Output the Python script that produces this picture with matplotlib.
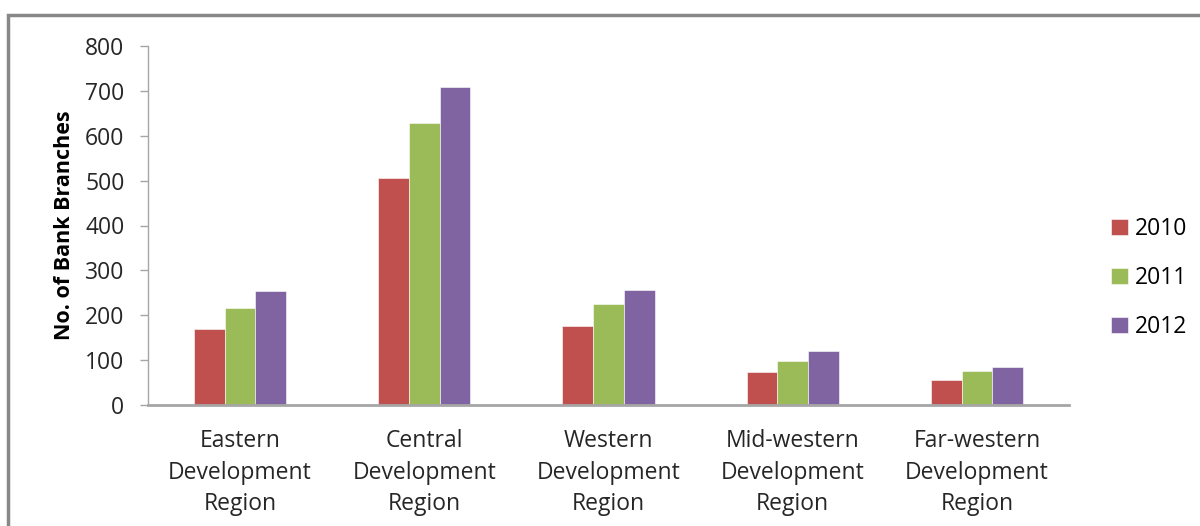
import matplotlib
matplotlib.use("Agg")
import matplotlib.pyplot as plt
import numpy as np
from matplotlib.patches import Patch, Rectangle

plt.rcParams["font.family"] = ["Open Sans", "DejaVu Sans"]

regions = [
    "Eastern\nDevelopment\nRegion",
    "Central\nDevelopment\nRegion",
    "Western\nDevelopment\nRegion",
    "Mid-western\nDevelopment\nRegion",
    "Far-western\nDevelopment\nRegion",
]
years = ["2010", "2011", "2012"]
branches_2010 = [170, 505, 176, 73, 56]
branches_2011 = [216, 628, 225, 99, 76]
branches_2012 = [253, 708, 256, 120, 85]
colors = ["#C0504D", "#9BBB59", "#8064A2"]

TEXT = "#262626"
AXIS = "#A6A6A6"

fig = plt.figure(figsize=(12, 5.26), dpi=100)
ax = fig.add_axes([148 / 1200, 1 - 405 / 526, 921 / 1200, 359 / 526])

x = np.arange(len(regions))
width = 1 / 6
series = [branches_2010, branches_2011, branches_2012]
for i, (vals, col) in enumerate(zip(series, colors)):
    ax.bar(x + (i - 1) * width, vals, width, color=col,
           edgecolor="white", linewidth=0.4, zorder=2)

ax.set_xlim(-0.5, len(regions) - 0.5)
ax.set_ylim(0, 800)
ax.set_yticks(range(0, 801, 100))
ax.set_xticks(x)
ax.set_xticklabels(regions, fontsize=16.5, color=TEXT, linespacing=1.44)
ax.tick_params(axis="x", length=0, pad=17)
ax.tick_params(axis="y", length=6, width=1, color=AXIS, labelsize=16.5,
               labelcolor=TEXT, pad=11)

for side in ("top", "right"):
    ax.spines[side].set_visible(False)
for side in ("left", "bottom"):
    ax.spines[side].set_color(AXIS)
ax.spines["left"].set_linewidth(1)
ax.spines["bottom"].set_linewidth(2)

ax.set_ylabel("No. of Bank Branches", fontsize=15.5, fontweight="bold",
              color="black")
ax.yaxis.set_label_coords((75 - 148) / 921, 0.5)

handles = [Patch(facecolor=c, edgecolor="white", linewidth=0.4) for c in colors]
fig.legend(handles, years, loc="center left", bbox_to_anchor=(1100 / 1200, 1 - 278 / 526),
           frameon=False, fontsize=16.5, handlelength=0.7, handleheight=0.7,
           handletextpad=0.3, labelspacing=1.1, borderpad=0)

# outer chart frame
fig.patches.append(Rectangle((8 / 1200, -0.1), 1.1, 1 - 15 / 526 + 0.1,
                             transform=fig.transFigure, fill=False,
                             edgecolor="#888888", linewidth=2.5))

fig.savefig("out.png", dpi=100, facecolor="white")
